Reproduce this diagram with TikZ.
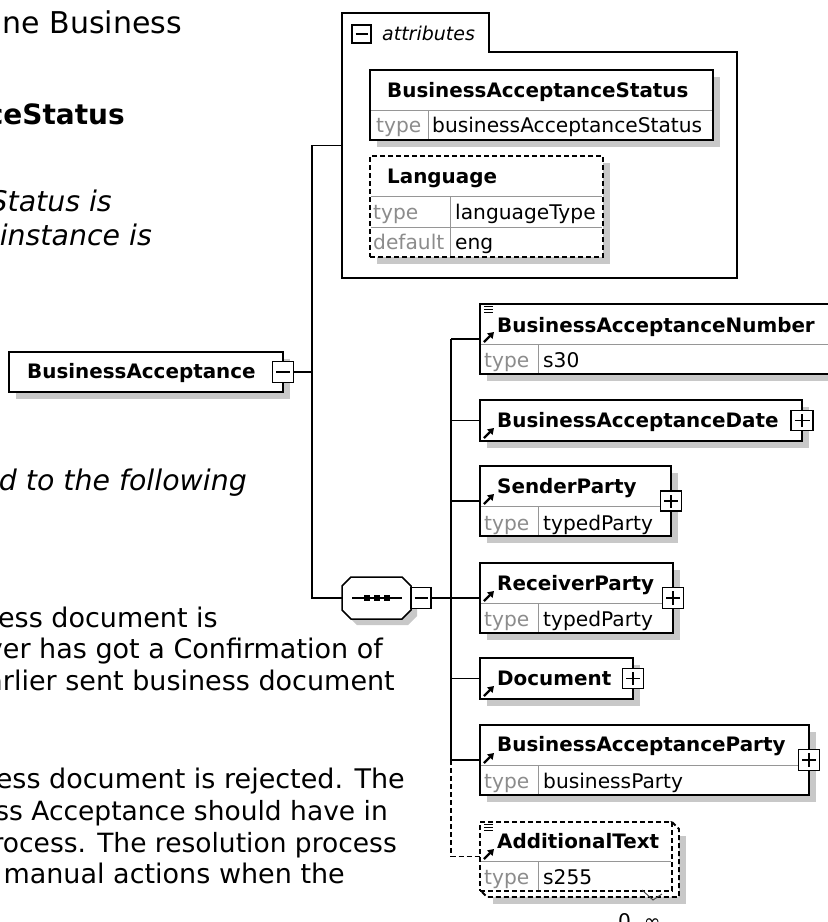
\documentclass[tikz,border=0pt]{standalone}
\usepackage{fontspec}
\setmainfont{DejaVu Sans}
\usetikzlibrary{shadows,arrows.meta}
\definecolor{shd}{RGB}{200,200,200}
\definecolor{lbl}{RGB}{140,140,140}
\definecolor{dvd}{RGB}{150,150,150}
\tikzset{
  elembox/.style={draw=black, line width=1.8pt, fill=white, anchor=north west, inner sep=0pt, outer sep=0pt, rectangle},
  shad/.style={drop shadow={shadow xshift=7pt, shadow yshift=-7pt, fill=shd, opacity=1}},
  optbox/.style={elembox, dash pattern=on 5pt off 3pt},
  pmbox/.style={draw=black, line width=1.3pt, fill=white, minimum width=20pt, minimum height=20pt, inner sep=0pt, outer sep=0pt, rectangle},
  minusbx/.style={pmbox, path picture={\draw[line width=1.3pt] ([xshift=3.5pt]path picture bounding box.west) -- ([xshift=-3.5pt]path picture bounding box.east);}},
  plusbx/.style={pmbox, path picture={\draw[line width=1.3pt] ([xshift=3.5pt]path picture bounding box.west) -- ([xshift=-3.5pt]path picture bounding box.east) ([yshift=3.5pt]path picture bounding box.south) -- ([yshift=-3.5pt]path picture bounding box.north);}},
  conn/.style={line width=1.4pt, black},
  dconn/.style={conn, dash pattern=on 5pt off 3pt},
  divline/.style={line width=0.9pt, dvd},
  nametxt/.style={anchor=base west, inner sep=0pt, font=\fontsize{19.9}{22}\selectfont\bfseries},
  valtxt/.style={anchor=base west, inner sep=0pt, font=\fontsize{20.2}{22}\selectfont},
  lbltxt/.style={valtxt, text=lbl},
  doctxt/.style={anchor=base east, inner sep=0pt, font=\fontsize{27}{32}\selectfont},
  itxt/.style={doctxt, font=\fontsize{28.4}{32}\selectfont\itshape},
  refarrow/.style={line width=2.2pt, -{Triangle[length=6pt,width=7.5pt]}},
  listicon/.style={line width=1pt}
}
\begin{document}
\begin{tikzpicture}[x=1pt,y=-1pt]
\useasboundingbox[fill=white] (0,0) rectangle (828,922);

% ---------- left document text ----------
\node[doctxt, font=\fontsize{30}{34}\selectfont] (t1) at (182,33) {ne Business};
\node[doctxt, font=\fontsize{28}{32}\selectfont\bfseries] (t2) at (125,124) {ceStatus};
\node[itxt] (t3) at (112,211) {Status is};
\node[itxt] (t4) at (152,245) {instance is};
\node[itxt] (t5) at (247,490) {d to the following};
\node[doctxt] (t6) at (218,627) {ess document is};
\node[doctxt] (t7) at (383,658) {ver has got a Confirmation of};
\node[doctxt] (t8) at (395,690) {arlier sent business document};
\node[doctxt] (t9) at (405,788) {ess document is rejected. The};
\node[doctxt, font=\fontsize{26.5}{32}\selectfont] (t10) at (388,820) {ss Acceptance should have in};
\node[doctxt, font=\fontsize{26.5}{32}\selectfont] (t11) at (397,852) {rocess. The resolution process};
\node[doctxt] (t12) at (345,883) {manual actions when the};

% ---------- root element ----------
\node[elembox, shad, minimum width=274pt, minimum height=40pt] (ba) at (9,352) {};
\node[nametxt] (batx) at (27,378) {BusinessAcceptance};
\node[minusbx, minimum width=21pt, minimum height=21pt] (bamin) at (ba.east) {};

% ---------- attributes group ----------
\node[inner sep=0pt, outer sep=0pt, minimum width=395pt, minimum height=265pt, anchor=north west] (attr) at (342,13) {};
\draw[line width=1.4pt, fill=white] (342,278) -- (342,13) -- (489,13) -- (489,52) -- (737,52) -- (737,278) -- cycle;
\node[minusbx, minimum width=19pt, minimum height=18pt, anchor=north west] (attrmin) at (352,25) {};
\node[anchor=base west, inner sep=0pt, font=\fontsize{19}{22}\selectfont\itshape] (attrtx) at (382,40) {attributes};

\node[elembox, shad, minimum width=343pt, minimum height=70pt] (bas) at (370,70) {};
\draw[divline] (371,110) -- (712,110);
\draw[divline] (428,110) -- (428,139);
\node[nametxt] (bastx) at (387,97) {BusinessAcceptanceStatus};
\node[lbltxt] (basl) at (376,132) {type};
\node[valtxt] (basv) at (432,132) {businessAcceptanceStatus};

\node[optbox, shad, minimum width=233pt, minimum height=101pt] (lang) at (370,156) {};
\draw[divline] (371,196) -- (602,196);
\draw[divline] (371,227) -- (602,227);
\draw[divline] (450,196) -- (450,256);
\node[nametxt] (langtx) at (387,183) {Language};
\node[lbltxt] (langl1) at (373,219) {type};
\node[valtxt] (langv1) at (455,219) {languageType};
\node[lbltxt] (langl2) at (373,249) {default};
\node[valtxt] (langv2) at (455,249) {eng};

% ---------- sequence compositor ----------
\node[inner sep=0pt, outer sep=0pt, minimum width=69pt, minimum height=42pt, anchor=north west] (seq) at (342,577) {};
\fill[shd] (357,583) -- (408,583) -- (417,592) -- (417,616) -- (408,625) -- (357,625) -- (348,616) -- (348,592) -- cycle;
\draw[line width=1.5pt, fill=white] (351,577) -- (402,577) -- (411,586) -- (411,610) -- (402,619) -- (351,619) -- (342,610) -- (342,586) -- cycle;
\draw[line width=1.3pt] (352,598) -- (402,598);
\foreach \xx in {367,377,387} \fill (\xx-3,595) rectangle (\xx+3,601);
\node[minusbx, anchor=west, minimum width=20pt, minimum height=21pt] (seqmin) at (seq.east) {};

% ---------- child elements ----------
% BusinessAcceptanceNumber
\node[elembox, shad, minimum width=360pt, minimum height=70pt] (ban) at (480,304) {};
\draw[divline] (481,344) -- (839,344);
\draw[divline] (538,344) -- (538,373);
\draw[listicon] (484,306.5) -- (493,306.5) (484,309.5) -- (493,309.5) (484,312.5) -- (493,312.5);
\draw[refarrow] (484,342) -- (494,332);
\node[nametxt] (bantx) at (497,332) {BusinessAcceptanceNumber};
\node[lbltxt] (banl) at (484,367) {type};
\node[valtxt] (banv) at (543,367) {s30};

% BusinessAcceptanceDate
\node[elembox, shad, minimum width=322pt, minimum height=41pt] (bad) at (480,400) {};
\draw[refarrow] (484,438) -- (494,428);
\node[nametxt] (badtx) at (497,427) {BusinessAcceptanceDate};
\node[plusbx, minimum width=22pt, minimum height=20pt] (badp) at (bad.east) {};

% SenderParty
\node[elembox, shad, minimum width=191pt, minimum height=70pt] (sp) at (480,466) {};
\draw[divline] (481,506) -- (670,506);
\draw[divline] (538,506) -- (538,535);
\draw[refarrow] (484,504) -- (494,494);
\node[nametxt] (sptx) at (497,493) {SenderParty};
\node[lbltxt] (spl) at (484,530) {type};
\node[valtxt] (spv) at (543,530) {typedParty};
\node[plusbx, minimum width=21pt, minimum height=20pt] (spp) at (sp.east) {};

% ReceiverParty
\node[elembox, shad, minimum width=193pt, minimum height=70pt] (rp) at (480,563) {};
\draw[divline] (481,603) -- (672,603);
\draw[divline] (538,603) -- (538,632);
\draw[refarrow] (484,601) -- (494,591);
\node[nametxt] (rptx) at (497,590) {ReceiverParty};
\node[lbltxt] (rpl) at (484,626) {type};
\node[valtxt] (rpv) at (543,626) {typedParty};
\node[plusbx, minimum width=21pt, minimum height=21pt] (rpp) at (rp.east) {};

% Document
\node[elembox, shad, minimum width=153pt, minimum height=41pt] (doc) at (480,658) {};
\draw[refarrow] (484,696) -- (494,686);
\node[nametxt] (doctx) at (497,685) {Document};
\node[plusbx, minimum width=21pt, minimum height=20pt] (docp) at (doc.east) {};

% BusinessAcceptanceParty
\node[elembox, shad, minimum width=329pt, minimum height=70pt] (bap) at (480,725) {};
\draw[divline] (481,765) -- (808,765);
\draw[divline] (538,765) -- (538,794);
\draw[refarrow] (484,763) -- (494,753);
\node[nametxt] (baptx) at (497,751) {BusinessAcceptanceParty};
\node[lbltxt] (bapl) at (484,788) {type};
\node[valtxt] (bapv) at (543,788) {businessParty};
\node[plusbx, minimum width=21pt, minimum height=21pt] (bapp) at (bap.east) {};

% AdditionalText (optional, repeating)
\fill[shd] (493,836) rectangle (686,904);
\draw[line width=1.8pt, dash pattern=on 5pt off 3pt, fill=white] (672,822) -- (679,829) -- (679,897) -- (487,897) -- (480,890) -- cycle;
\node[optbox, minimum width=192pt, minimum height=69pt] (adt) at (480,822) {};
\draw[divline] (481,861) -- (671,861);
\draw[divline] (538,861) -- (538,890);
\draw[listicon] (484,824.5) -- (493,824.5) (484,827.5) -- (493,827.5) (484,830.5) -- (493,830.5);
\draw[refarrow] (484,859) -- (494,849);
\node[nametxt] (adttx) at (497,848) {AdditionalText};
\node[lbltxt] (adtl) at (484,884) {type};
\node[valtxt] (adtv) at (543,884) {s255};
\draw[line width=0.9pt, black!75] (642,890) -- (653,900) -- (662,894);
\node[valtxt] (occ) at (618,928) {0..∞};

% ---------- connectors ----------
\coordinate (j1) at (312,0);
\coordinate (k1) at (451,0);
\draw[conn] (bamin.east) -- (bamin.east -| j1);
\draw[conn] (attr.west) -- (attr.west -| j1) -- (seq.west -| j1) -- (seq.west);
\draw[conn] (seqmin.east) -- (seqmin.east -| k1);
\draw[conn] (ban.west -| k1) -- (bap.west -| k1);
\foreach \n in {ban,bad,sp,rp,doc,bap} \draw[conn] (\n.west -| k1) -- (\n.west);
\draw[dconn] (bap.west -| k1) -- (adt.west -| k1) -- (adt.west);
\end{tikzpicture}
\end{document}
